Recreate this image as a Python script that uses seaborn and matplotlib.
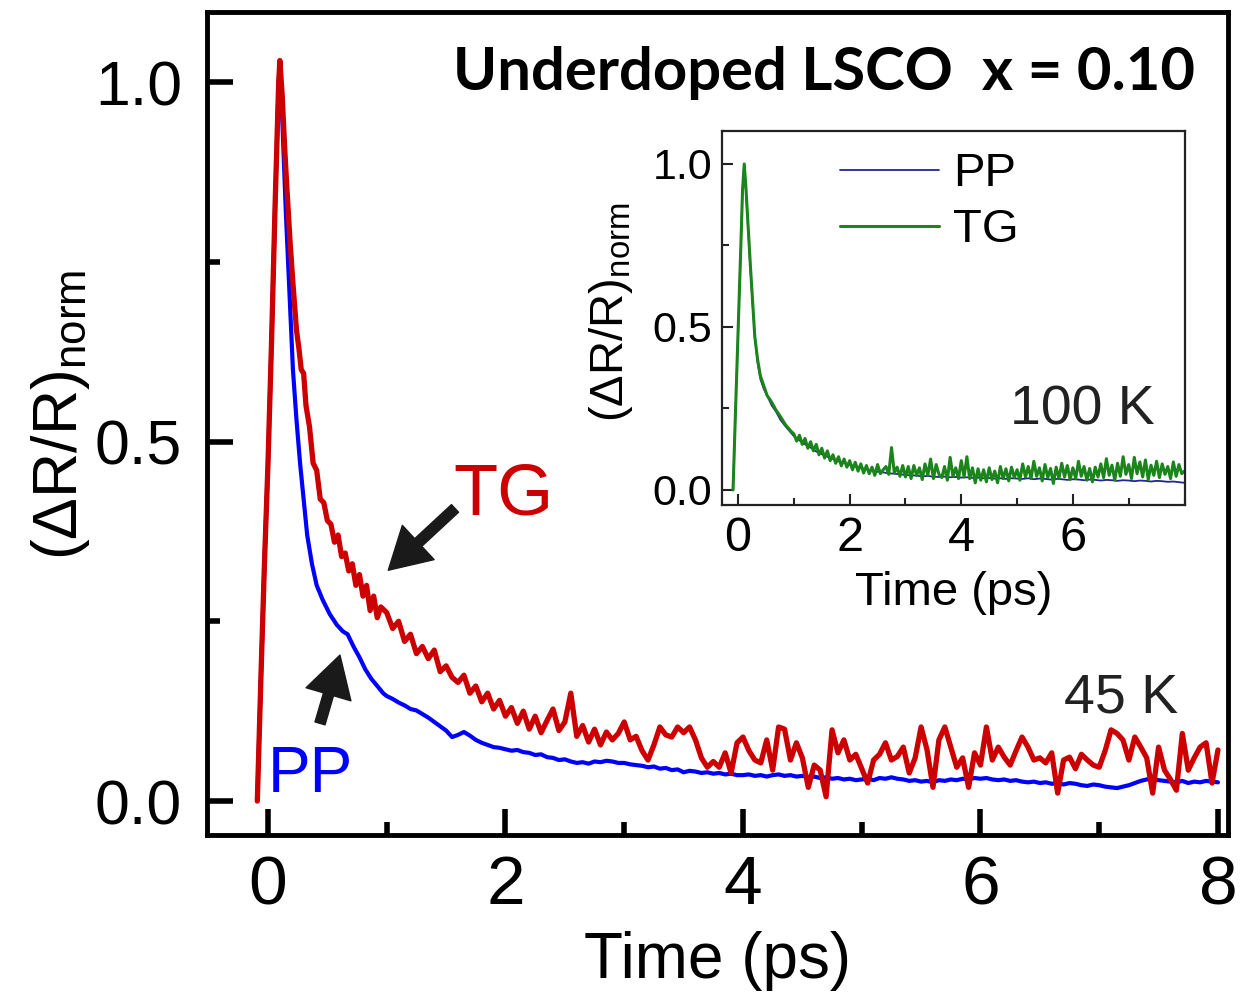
import numpy as np
import pandas as pd
import matplotlib
matplotlib.use("Agg")
import matplotlib.pyplot as plt
import seaborn as sns
from matplotlib.ticker import MultipleLocator
from matplotlib import font_manager as fm

# ------------------------------------------------------------------ data
# Main panel (45 K).  Early part: explicit times (ps); late part: 0.05 ps grid from 1.00 ps
pp_t_early = [-0.09, -0.06, -0.03, 0.00, 0.03, 0.06, 0.09, 0.10, 0.12, 0.15,
              0.18, 0.21, 0.24, 0.27, 0.30, 0.33, 0.37, 0.41, 0.46, 0.52,
              0.58, 0.63, 0.67, 0.72, 0.77, 0.82, 0.87, 0.92, 0.97]
pp_v_early = [0.00, 0.17, 0.33, 0.47, 0.64, 0.83, 1.00, 1.02, 0.95, 0.82,
              0.71, 0.60, 0.53, 0.47, 0.42, 0.37, 0.33, 0.30, 0.28, 0.26,
              0.245, 0.236, 0.232, 0.215, 0.200, 0.183, 0.170, 0.160, 0.150]
pp_v_late = [
    0.146, 0.142, 0.137, 0.133, 0.128, 0.126, 0.121, 0.116, 0.110, 0.104,
    0.098, 0.089, 0.092, 0.096, 0.091, 0.085, 0.081, 0.078, 0.075, 0.074,
    0.072, 0.070, 0.071, 0.068, 0.067, 0.064, 0.065, 0.061, 0.060, 0.057,
    0.058, 0.055, 0.053, 0.054, 0.052, 0.055, 0.054, 0.056, 0.055, 0.053,
    0.053, 0.051, 0.050, 0.049, 0.047, 0.048, 0.045, 0.046, 0.043, 0.044,
    0.040, 0.042, 0.041, 0.039, 0.040, 0.038, 0.039, 0.037, 0.038, 0.036,
    0.036, 0.037, 0.035, 0.036, 0.034, 0.036, 0.037, 0.035, 0.036, 0.034,
    0.035, 0.033, 0.034, 0.032, 0.033, 0.031, 0.032, 0.030, 0.031, 0.029,
    0.030, 0.031, 0.029, 0.032, 0.031, 0.033, 0.031, 0.030, 0.028, 0.029,
    0.027, 0.028, 0.026, 0.029, 0.028, 0.030, 0.029, 0.031, 0.030, 0.032,
    0.031, 0.032, 0.030, 0.029, 0.030, 0.028, 0.029, 0.027, 0.026, 0.027,
    0.025, 0.026, 0.024, 0.025, 0.023, 0.025, 0.024, 0.022, 0.021, 0.023,
    0.022, 0.020, 0.019, 0.018, 0.020, 0.022, 0.025, 0.028, 0.030, 0.031,
    0.029, 0.028, 0.027, 0.026, 0.028, 0.025, 0.027, 0.026, 0.028, 0.027,
    0.026]

tg_t_early = [-0.09, -0.06, -0.03, 0.00, 0.03, 0.06, 0.09, 0.10, 0.12, 0.14,
              0.16, 0.185, 0.21, 0.24, 0.26, 0.28, 0.30, 0.32, 0.35, 0.38,
              0.41, 0.44, 0.47, 0.50, 0.53, 0.56, 0.59, 0.62, 0.65, 0.68,
              0.71, 0.74, 0.77, 0.80, 0.83, 0.86, 0.89, 0.92, 0.95]
tg_v_early = [0.00, 0.17, 0.33, 0.47, 0.64, 0.83, 1.00, 1.03, 0.98, 0.91,
              0.85, 0.78, 0.72, 0.655, 0.63, 0.60, 0.595, 0.55, 0.52, 0.47,
              0.46, 0.42, 0.415, 0.39, 0.385, 0.36, 0.37, 0.34, 0.345, 0.32,
              0.33, 0.30, 0.315, 0.285, 0.30, 0.265, 0.285, 0.255, 0.27]
tg_v_late = [
    0.262, 0.240, 0.250, 0.222, 0.232, 0.205, 0.215, 0.198, 0.210, 0.180,
    0.188, 0.172, 0.165, 0.175, 0.150, 0.160, 0.138, 0.150, 0.128, 0.140,
    0.118, 0.130, 0.108, 0.125, 0.100, 0.118, 0.095, 0.112, 0.128, 0.098,
    0.110, 0.150, 0.090, 0.105, 0.082, 0.100, 0.078, 0.096, 0.085, 0.094,
    0.110, 0.085, 0.090, 0.070, 0.057, 0.078, 0.103, 0.092, 0.089, 0.103,
    0.095, 0.103, 0.085, 0.060, 0.047, 0.055, 0.047, 0.067, 0.039, 0.081,
    0.089, 0.070, 0.057, 0.053, 0.085, 0.043, 0.103, 0.100, 0.057, 0.081,
    0.060, 0.019, 0.050, 0.043, 0.006, 0.099, 0.067, 0.085, 0.057, 0.065,
    0.045, 0.025, 0.057, 0.065, 0.081, 0.057, 0.062, 0.075, 0.039, 0.060,
    0.103, 0.071, 0.019, 0.085, 0.103, 0.075, 0.047, 0.060, 0.019, 0.067,
    0.050, 0.103, 0.057, 0.075, 0.061, 0.050, 0.070, 0.089, 0.075, 0.057,
    0.060, 0.053, 0.067, 0.011, 0.057, 0.061, 0.045, 0.065, 0.057, 0.050,
    0.047, 0.070, 0.099, 0.094, 0.085, 0.057, 0.089, 0.075, 0.060, 0.011,
    0.075, 0.043, 0.030, 0.015, 0.094, 0.043, 0.060, 0.075, 0.081, 0.025,
    0.071]

# Inset (100 K)
in_t_early = [-0.09, -0.05, 0.00, 0.05, 0.08, 0.11, 0.14, 0.18, 0.22, 0.26,
              0.30, 0.35, 0.40, 0.46, 0.52, 0.60, 0.68, 0.76, 0.85, 0.95]
in_pp_v_early = [0.0, 0.22, 0.48, 0.75, 0.92, 1.0, 0.92, 0.80, 0.68, 0.57,
                 0.47, 0.39, 0.34, 0.31, 0.29, 0.26, 0.24, 0.215, 0.195, 0.175]
in_pp_v_late = [  # 0.1 ps grid from 1.0 ps
    0.165, 0.152, 0.140, 0.130, 0.118, 0.110, 0.102, 0.095, 0.088, 0.083,
    0.077, 0.072, 0.068, 0.063, 0.060, 0.056, 0.054, 0.051, 0.050, 0.048,
    0.046, 0.045, 0.044, 0.042, 0.043, 0.041, 0.040, 0.041, 0.039, 0.040,
    0.038, 0.039, 0.037, 0.038, 0.036, 0.037, 0.035, 0.036, 0.034, 0.036,
    0.035, 0.034, 0.036, 0.033, 0.035, 0.034, 0.032, 0.034, 0.033, 0.031,
    0.033, 0.032, 0.030, 0.032, 0.031, 0.029, 0.031, 0.030, 0.028, 0.030,
    0.029, 0.027, 0.029, 0.028, 0.026, 0.028, 0.027, 0.025, 0.026, 0.024,
    0.022]
in_tg_v_early = [0.0, 0.22, 0.48, 0.75, 0.92, 1.0, 0.93, 0.81, 0.69, 0.58,
                 0.47, 0.40, 0.35, 0.32, 0.29, 0.27, 0.245, 0.225, 0.20, 0.18]
in_tg_v_late = [  # 0.05 ps grid from 1.0 ps
    0.172, 0.150, 0.168, 0.140, 0.158, 0.128, 0.148, 0.120, 0.140, 0.108,
    0.128, 0.098, 0.120, 0.090, 0.108, 0.082, 0.102, 0.074, 0.095, 0.070,
    0.090, 0.062, 0.085, 0.058, 0.080, 0.052, 0.075, 0.050, 0.070, 0.045,
    0.078, 0.050, 0.062, 0.072, 0.048, 0.130, 0.052, 0.070, 0.042, 0.075,
    0.040, 0.072, 0.035, 0.075, 0.045, 0.068, 0.032, 0.080, 0.045, 0.095,
    0.035, 0.078, 0.048, 0.038, 0.072, 0.030, 0.100, 0.042, 0.068, 0.035,
    0.090, 0.040, 0.102, 0.035, 0.068, 0.022, 0.065, 0.030, 0.062, 0.025,
    0.068, 0.032, 0.058, 0.022, 0.072, 0.035, 0.065, 0.028, 0.070, 0.038,
    0.062, 0.030, 0.080, 0.040, 0.072, 0.035, 0.088, 0.042, 0.068, 0.028,
    0.078, 0.038, 0.066, 0.020, 0.070, 0.035, 0.082, 0.040, 0.075, 0.032,
    0.068, 0.035, 0.088, 0.042, 0.072, 0.030, 0.066, 0.025, 0.070, 0.040,
    0.080, 0.038, 0.096, 0.045, 0.076, 0.030, 0.082, 0.042, 0.102, 0.048,
    0.078, 0.035, 0.100, 0.050, 0.086, 0.040, 0.092, 0.032, 0.076, 0.045,
    0.088, 0.038, 0.080, 0.048, 0.072, 0.035, 0.086, 0.042, 0.078, 0.050,
    0.058]

x_ticks_labels = ["0", "2", "4", "6", "8"]
y_ticks_labels = ["0.0", "0.5", "1.0"]
title_text = "Underdoped LSCO  x = 0.10"
main_temp = "45 K"
inset_temp = "100 K"
series_names = ["PP", "TG"]

LATE_T0 = 1.0


def make_frame(t_early, v_early, v_late, step):
    t_late = np.round(LATE_T0 + step * np.arange(len(v_late)), 3)
    return pd.DataFrame({"t": np.concatenate([t_early, t_late]),
                         "v": np.concatenate([v_early, v_late])})


df_pp = make_frame(pp_t_early, pp_v_early, pp_v_late, 0.05)
df_tg = make_frame(tg_t_early, tg_v_early, tg_v_late, 0.05)
df_in_pp = make_frame(in_t_early, in_pp_v_early, in_pp_v_late, 0.1)
df_in_tg = make_frame(in_t_early, in_tg_v_early, in_tg_v_late, 0.05)

# ------------------------------------------------------------------ style
sns.set_theme(style="ticks")
names = {f.name for f in fm.fontManager.ttflist}
NARROW = "Liberation Sans Narrow" if "Liberation Sans Narrow" in names else "Liberation Sans"
plt.rcParams["font.family"] = ["Liberation Sans", "DejaVu Sans"]
plt.rcParams["mathtext.fontset"] = "custom"
plt.rcParams["mathtext.rm"] = NARROW
plt.rcParams["mathtext.it"] = NARROW
plt.rcParams["axes.edgecolor"] = "black"
plt.rcParams["text.color"] = "black"
plt.rcParams["axes.labelcolor"] = "black"
plt.rcParams["xtick.color"] = "black"
plt.rcParams["ytick.color"] = "black"

RED = "#CC0000"
BLUE = "#0000FF"
NAVY = "#23239A"
GREEN = "#1B851B"
INK = "#1A1A1A"

fig = plt.figure(figsize=(12.46, 9.98), dpi=100)
ax = fig.add_axes([0.1661, 0.1633, 0.8194, 0.8246])

sns.lineplot(data=df_pp, x="t", y="v", ax=ax, color=BLUE, linewidth=3.0,
             estimator=None, sort=False)
sns.lineplot(data=df_tg, x="t", y="v", ax=ax, color=RED, linewidth=3.8,
             estimator=None, sort=False)

ax.set_xlim(-0.514, 8.084)
ax.set_ylim(-0.0473, 1.0974)
ax.set_xticks([0, 2, 4, 6, 8], x_ticks_labels)
ax.set_yticks([0.0, 0.5, 1.0], y_ticks_labels)
ax.xaxis.set_minor_locator(MultipleLocator(1))
ax.yaxis.set_minor_locator(MultipleLocator(0.25))
ax.tick_params(which="both", direction="in", top=False, right=False,
               color="black", labelcolor="black", width=4)
ax.tick_params(which="major", length=19)
ax.tick_params(which="minor", length=9.5)
ax.tick_params(axis="x", labelsize=50, pad=14)
ax.tick_params(axis="y", labelsize=45, pad=18)
for s in ax.spines.values():
    s.set_linewidth(3.5)
    s.set_color("black")

ax.set_xlabel("Time (ps)", fontsize=46, labelpad=9)
ax.set_ylabel(r"$\mathrm{(\Delta R/R)}_{\mathrm{norm}}$", fontsize=45)
ax.yaxis.set_label_coords(-0.113, 0.51)

ax.text(0.9677, 0.905, title_text, transform=ax.transAxes, ha="right",
        va="baseline", fontsize=43, fontweight="bold", family=["Lato", "DejaVu Sans"])
ax.text(0.951, 0.1494, main_temp, transform=ax.transAxes, ha="right",
        va="baseline", fontsize=40, color="#222222")
ax.text(1.565, 0.398, series_names[1], ha="left", va="baseline",
        fontsize=52, color=RED)
ax.text(0.0, 0.0125, series_names[0], ha="left", va="baseline",
        fontsize=46, color=BLUE)

arrow_style = "simple,head_length=0.98,head_width=1.12,tail_width=0.25"
ax.annotate("", xy=(1.013, 0.321), xytext=(1.575, 0.407),
            arrowprops=dict(arrowstyle=arrow_style, color=INK, mutation_scale=30,
                            shrinkA=0, shrinkB=0))
ax.annotate("", xy=(0.606, 0.203), xytext=(0.438, 0.108),
            arrowprops=dict(arrowstyle=arrow_style, color=INK, mutation_scale=30,
                            shrinkA=0, shrinkB=0))

# ------------------------------------------------------------------ inset
ins = fig.add_axes([0.5795, 0.4940, 0.3716, 0.3747])
sns.lineplot(data=df_in_pp, x="t", y="v", ax=ins, color=NAVY, linewidth=1.3,
             estimator=None, sort=False, label=series_names[0])
sns.lineplot(data=df_in_tg, x="t", y="v", ax=ins, color=GREEN, linewidth=2.2,
             estimator=None, sort=False, label=series_names[1])
ins.set_xlim(-0.287, 8.01)
ins.set_ylim(-0.046, 1.101)
ins.set_xticks([0, 2, 4, 6], x_ticks_labels[:4])
ins.xaxis.set_minor_locator(MultipleLocator(1))
ins.set_yticks([0.0, 0.5, 1.0], y_ticks_labels)
ins.yaxis.set_minor_locator(MultipleLocator(0.25))
ins.tick_params(which="both", direction="in", top=False, right=False,
                color="#222222", labelcolor="black", width=1.5)
ins.tick_params(which="major", length=8)
ins.tick_params(which="minor", length=5)
ins.tick_params(axis="x", labelsize=35, pad=8)
ins.tick_params(axis="y", labelsize=31, pad=7)
for s in ins.spines.values():
    s.set_linewidth(1.6)
    s.set_color("#222222")
ins.set_xlabel("Time (ps)", fontsize=34, labelpad=7)
ins.set_ylabel(r"$\mathrm{(\Delta R/R)}_{\mathrm{norm}}$", fontsize=34)
ins.yaxis.set_label_coords(-0.188, 0.516)
ins.text(0.935, 0.214, inset_temp, transform=ins.transAxes, ha="right",
         va="baseline", fontsize=40, color="#222222")
leg = ins.legend(loc="upper left", bbox_to_anchor=(0.255, 0.943), frameon=False,
                 fontsize=34, handlelength=2.1, handletextpad=0.3,
                 labelspacing=0.25, borderpad=0, borderaxespad=0)

fig.savefig("out.png", dpi=100)
